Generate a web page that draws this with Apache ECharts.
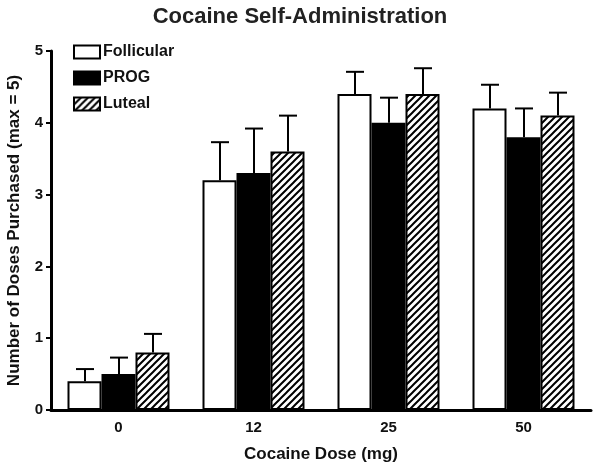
<!DOCTYPE html>
<html>
<head>
<meta charset="utf-8">
<script src="https://cdn.jsdelivr.net/npm/echarts@6/dist/echarts.min.js"></script>
<style>
  html, body { margin: 0; padding: 0; background: #fff; }
  #main { width: 600px; height: 465px; }
</style>
</head>
<body>
<div id="main"></div>
<script>
// data
var doses = ['0', '12', '25', '50'];
var seriesNames = ['Follicular', 'PROG', 'Luteal'];
var follicular = [0.4, 3.2, 4.4, 4.2];
var prog = [0.5, 3.3, 4.0, 3.8];
var luteal = [0.8, 3.6, 4.4, 4.1];
var follicularErr = [0.17, 0.53, 0.31, 0.33];
var progErr = [0.23, 0.62, 0.35, 0.40];
var lutealErr = [0.26, 0.50, 0.36, 0.32];
var yTicks = [0, 1, 2, 3, 4, 5];

var barW = 34;
var font = 'Liberation Sans, Arial, sans-serif';
var ink = '#111';

// hatch pattern "/" for luteal
function hatch() {
  var c = document.createElement('canvas');
  c.width = 7; c.height = 7;
  var ctx = c.getContext('2d');
  ctx.fillStyle = '#fff';
  ctx.fillRect(0, 0, 7, 7);
  ctx.strokeStyle = '#000';
  ctx.lineWidth = 2;
  ctx.beginPath();
  ctx.moveTo(-1, 8); ctx.lineTo(8, -1);
  ctx.moveTo(-1, 1); ctx.lineTo(1, -1);
  ctx.moveTo(6, 8); ctx.lineTo(8, 6);
  ctx.stroke();
  return c;
}

var vals = [follicular, prog, luteal];
var errs = [follicularErr, progErr, lutealErr];
var fills = ['#fff', '#000', { image: hatch(), repeat: 'repeat' }];

var series = [];
seriesNames.forEach(function (name, i) {
  series.push({
    name: name,
    type: 'bar',
    barWidth: barW,
    barGap: '0%',
    data: vals[i],
    itemStyle: { color: fills[i], borderColor: '#000', borderWidth: 2 },
    z: 2
  });
});

// error bars (upper only)
seriesNames.forEach(function (name, i) {
  var d = vals[i].map(function (v, k) { return [k, v, v + errs[i][k]]; });
  series.push({
    type: 'custom',
    name: name + ' err',
    data: d,
    z: 3,
    silent: true,
    renderItem: function (params, api) {
      var base = api.coord([api.value(0), api.value(1)]);
      var top = api.coord([api.value(0), api.value(2)]);
      var x = Math.round(base[0] + (i - 1) * barW);
      var half = 9;
      return {
        type: 'group',
        children: [
          { type: 'line', shape: { x1: x, y1: base[1], x2: x, y2: top[1] },
            style: { stroke: '#000', lineWidth: 2 } },
          { type: 'line', shape: { x1: x - half, y1: top[1], x2: x + half, y2: top[1] },
            style: { stroke: '#000', lineWidth: 2 } }
        ]
      };
    }
  });
});

var chart = echarts.init(document.getElementById('main'));
chart.setOption({
  animation: false,
  backgroundColor: '#fff',
  title: {
    text: 'Cocaine Self-Administration',
    left: 'center',
    top: 1,
    textStyle: { fontFamily: font, fontSize: 22, fontWeight: 'bold', color: '#222' }
  },
  legend: {
    data: seriesNames,
    orient: 'vertical',
    left: 73,
    top: 44,
    padding: 0,
    itemWidth: 26,
    itemHeight: 13,
    itemGap: 10,
    icon: 'rect',
    textStyle: { fontFamily: font, fontSize: 16, fontWeight: 'bold', color: ink, padding: [0, 0, 0, -2] }
  },
  grid: { left: 51, right: 9, top: 51, bottom: 55, outerBoundsMode: 'none' },
  xAxis: {
    type: 'category',
    data: doses,
    name: 'Cocaine Dose (mg)',
    nameLocation: 'middle',
    nameGap: 36,
    nameTextStyle: { fontFamily: font, fontSize: 17, fontWeight: 'bold', color: ink },
    axisLine: { lineStyle: { color: '#000', width: 3 } },
    axisTick: { alignWithLabel: true, length: 6, lineStyle: { color: '#000', width: 2 } },
    axisLabel: { fontFamily: font, fontSize: 15, fontWeight: 'bold', color: ink, margin: 10 }
  },
  yAxis: {
    type: 'value',
    min: yTicks[0],
    max: yTicks[yTicks.length - 1],
    interval: 1,
    name: 'Number of Doses Purchased (max = 5)',
    nameLocation: 'middle',
    nameGap: 28,
    nameTextStyle: { fontFamily: font, fontSize: 17, fontWeight: 'bold', color: ink },
    splitLine: { show: false },
    axisLine: { show: true, lineStyle: { color: '#000', width: 3 } },
    axisTick: { show: true, length: 5, lineStyle: { color: '#000', width: 2 } },
    axisLabel: { fontFamily: font, fontSize: 15, fontWeight: 'bold', color: ink, margin: 8 }
  },
  series: series
});
</script>
</body>
</html>
